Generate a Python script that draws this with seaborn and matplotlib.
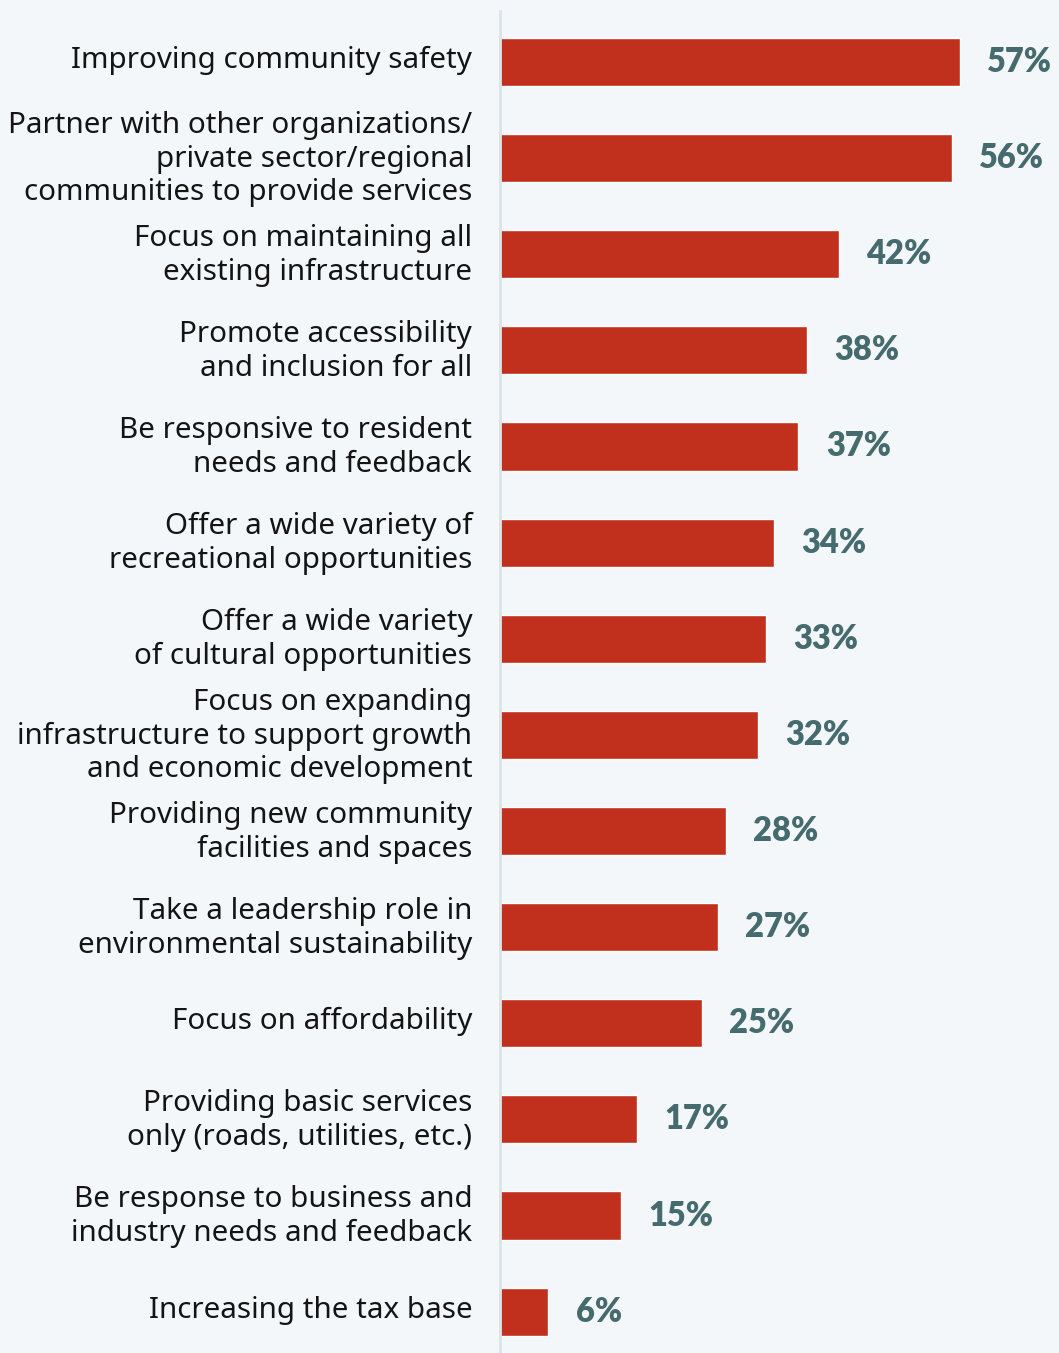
import matplotlib
matplotlib.use("Agg")
import matplotlib.pyplot as plt
import matplotlib.transforms as mtransforms
import seaborn as sns
import pandas as pd

categories = [
    "Improving community safety",
    "Partner with other organizations/\nprivate sector/regional\ncommunities to provide services",
    "Focus on maintaining all\nexisting infrastructure",
    "Promote accessibility\nand inclusion for all",
    "Be responsive to resident\nneeds and feedback",
    "Offer a wide variety of\nrecreational opportunities",
    "Offer a wide variety\nof cultural opportunities",
    "Focus on expanding\ninfrastructure to support growth\nand economic development",
    "Providing new community\nfacilities and spaces",
    "Take a leadership role in\nenvironmental sustainability",
    "Focus on affordability",
    "Providing basic services\nonly (roads, utilities, etc.)",
    "Be response to business and\nindustry needs and feedback",
    "Increasing the tax base",
]
values = [57, 56, 42, 38, 37, 34, 33, 32, 28, 27, 25, 17, 15, 6]

BG = "#F4F7F9"
BAR = "#C0301D"
VAL = "#456B6E"

sns.set_theme(style="white")
plt.rcParams["font.family"] = ["Noto Sans", "DejaVu Sans"]

df = pd.DataFrame({"category": categories, "value": values})

fig = plt.figure(figsize=(10.59, 13.53), dpi=100, facecolor=BG)
ax = fig.add_axes([500 / 1059, 0.0, 559 / 1059, (1353 - 11) / 1353])
ax.set_facecolor(BG)

sns.barplot(data=df, x="value", y="category", orient="h", color=BAR,
            saturation=1, width=0.5, ax=ax)

ax.set_xlim(0, 69.3)
ax.set_ylim(13.43, -0.53)
ax.set_xlabel("")
ax.set_ylabel("")
ax.set_xticks([])

for s in ["top", "right", "bottom"]:
    ax.spines[s].set_visible(False)
ax.spines["left"].set_color("#DCE3E6")
ax.spines["left"].set_linewidth(2)

# category labels: right-aligned, nudged up slightly to sit centred on the bars
ax.tick_params(axis="y", length=0, pad=20)
lift = mtransforms.ScaledTranslation(0, 3.5 / 72, fig.dpi_scale_trans)
for lbl in ax.get_yticklabels():
    lbl.set_fontsize(21.3)
    lbl.set_color("#141414")
    lbl.set_linespacing(1.22)
    lbl.set_horizontalalignment("right")
    lbl.set_multialignment("right")
    lbl.set_transform(lbl.get_transform() + lift)

for i, v in enumerate(values):
    ax.text(v + 3.4, i, f"{v}%", va="center", ha="left",
            fontsize=23.5, fontweight="heavy", color=VAL,
            fontfamily=["Lato", "DejaVu Sans"])

fig.savefig("out.png", dpi=100, facecolor=BG)
